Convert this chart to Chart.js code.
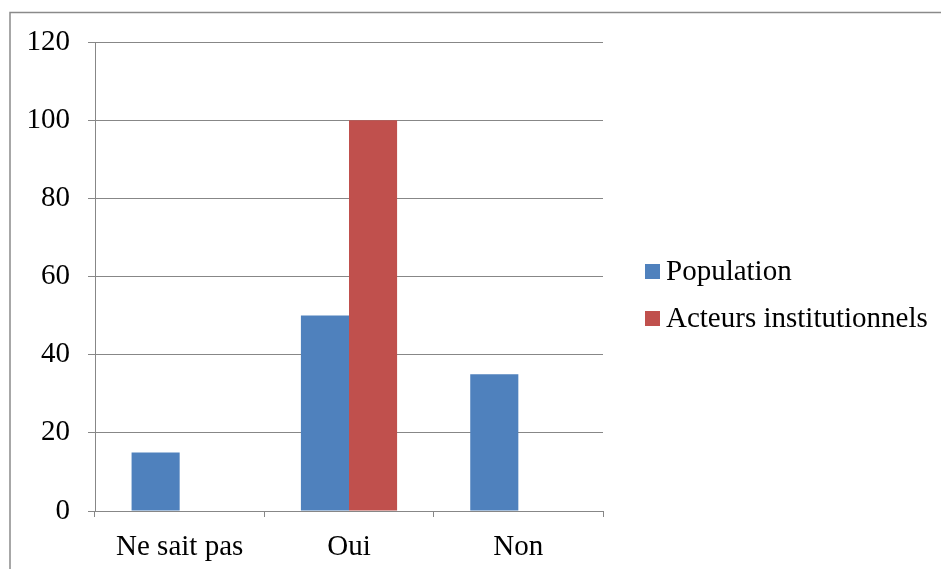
<!DOCTYPE html>
<html>
<head>
<meta charset="utf-8">
<script src="https://cdn.jsdelivr.net/npm/chart.js@4"></script>
<style>
  html, body { margin: 0; padding: 0; background: #ffffff; }
  #wrap { position: relative; width: 941px; height: 569px; }
</style>
</head>
<body>
<div id="wrap"><canvas id="c" width="941" height="569"></canvas></div>
<script>
// Answers and percentages per group
const categories = ['Ne sait pas', 'Oui', 'Non'];
const population = [15, 50, 35];
const acteurs = [0, 100, 0];
const seriesNames = ['Population', 'Acteurs institutionnels'];
const yTicks = [0, 20, 40, 60, 80, 100, 120];

const FONT = '"Liberation Serif", "Times New Roman", serif';
const FONT_SIZE = 29;
const GRID = '#878787';

// Frame around the whole figure
const framePlugin = {
  id: 'frame',
  beforeDraw(chart) {
    const ctx = chart.ctx;
    ctx.save();
    ctx.strokeStyle = '#8a8a8a';
    ctx.lineWidth = 1.5;
    ctx.strokeRect(10, 12.5, 1000, 1000);
    ctx.restore();
  }
};

// Legend drawn to the right of the plot area
const sideLegend = {
  id: 'sideLegend',
  afterDraw(chart) {
    const ctx = chart.ctx;
    const area = chart.chartArea;
    const x0 = area.right + 42;
    const centers = [271.5, 318.5];
    ctx.save();
    ctx.font = FONT_SIZE + 'px ' + FONT;
    ctx.textBaseline = 'middle';
    ctx.textAlign = 'left';
    chart.data.datasets.forEach((ds, i) => {
      const cy = centers[i];
      ctx.fillStyle = ds.backgroundColor;
      ctx.fillRect(x0, cy - 7.5, 15, 15);
      ctx.fillStyle = '#000000';
      ctx.fillText(ds.label, x0 + 21, cy + 1);
    });
    ctx.restore();
  }
};

new Chart(document.getElementById('c'), {
  type: 'bar',
  data: {
    labels: categories,
    datasets: [
      { label: seriesNames[0], data: population, backgroundColor: '#4F81BD' },
      { label: seriesNames[1], data: acteurs, backgroundColor: '#C0504D' }
    ]
  },
  options: {
    responsive: false,
    animation: false,
    devicePixelRatio: 1,
    categoryPercentage: 0.568,
    barPercentage: 1,
    layout: { padding: { left: 0, top: 42, right: 338, bottom: 0 } },
    plugins: {
      legend: { display: false },
      tooltip: { enabled: false }
    },
    scales: {
      x: {
        grid: { drawOnChartArea: false, drawTicks: true, tickLength: 6, color: GRID, offset: true },
        border: { color: GRID, width: 1 },
        ticks: { color: '#000000', font: { family: FONT, size: FONT_SIZE }, padding: 13 },
        afterFit(scale) { scale.height = 58; }
      },
      y: {
        min: 0,
        max: 120,
        afterBuildTicks(scale) { scale.ticks = yTicks.map(v => ({ value: v })); },
        grid: { color: GRID, tickLength: 7, drawTicks: true },
        border: { color: GRID, width: 1 },
        ticks: { color: '#000000', font: { family: FONT, size: FONT_SIZE }, padding: 18 },
        afterFit(scale) { scale.width = 95; }
      }
    }
  },
  plugins: [framePlugin, sideLegend]
});
</script>
</body>
</html>
